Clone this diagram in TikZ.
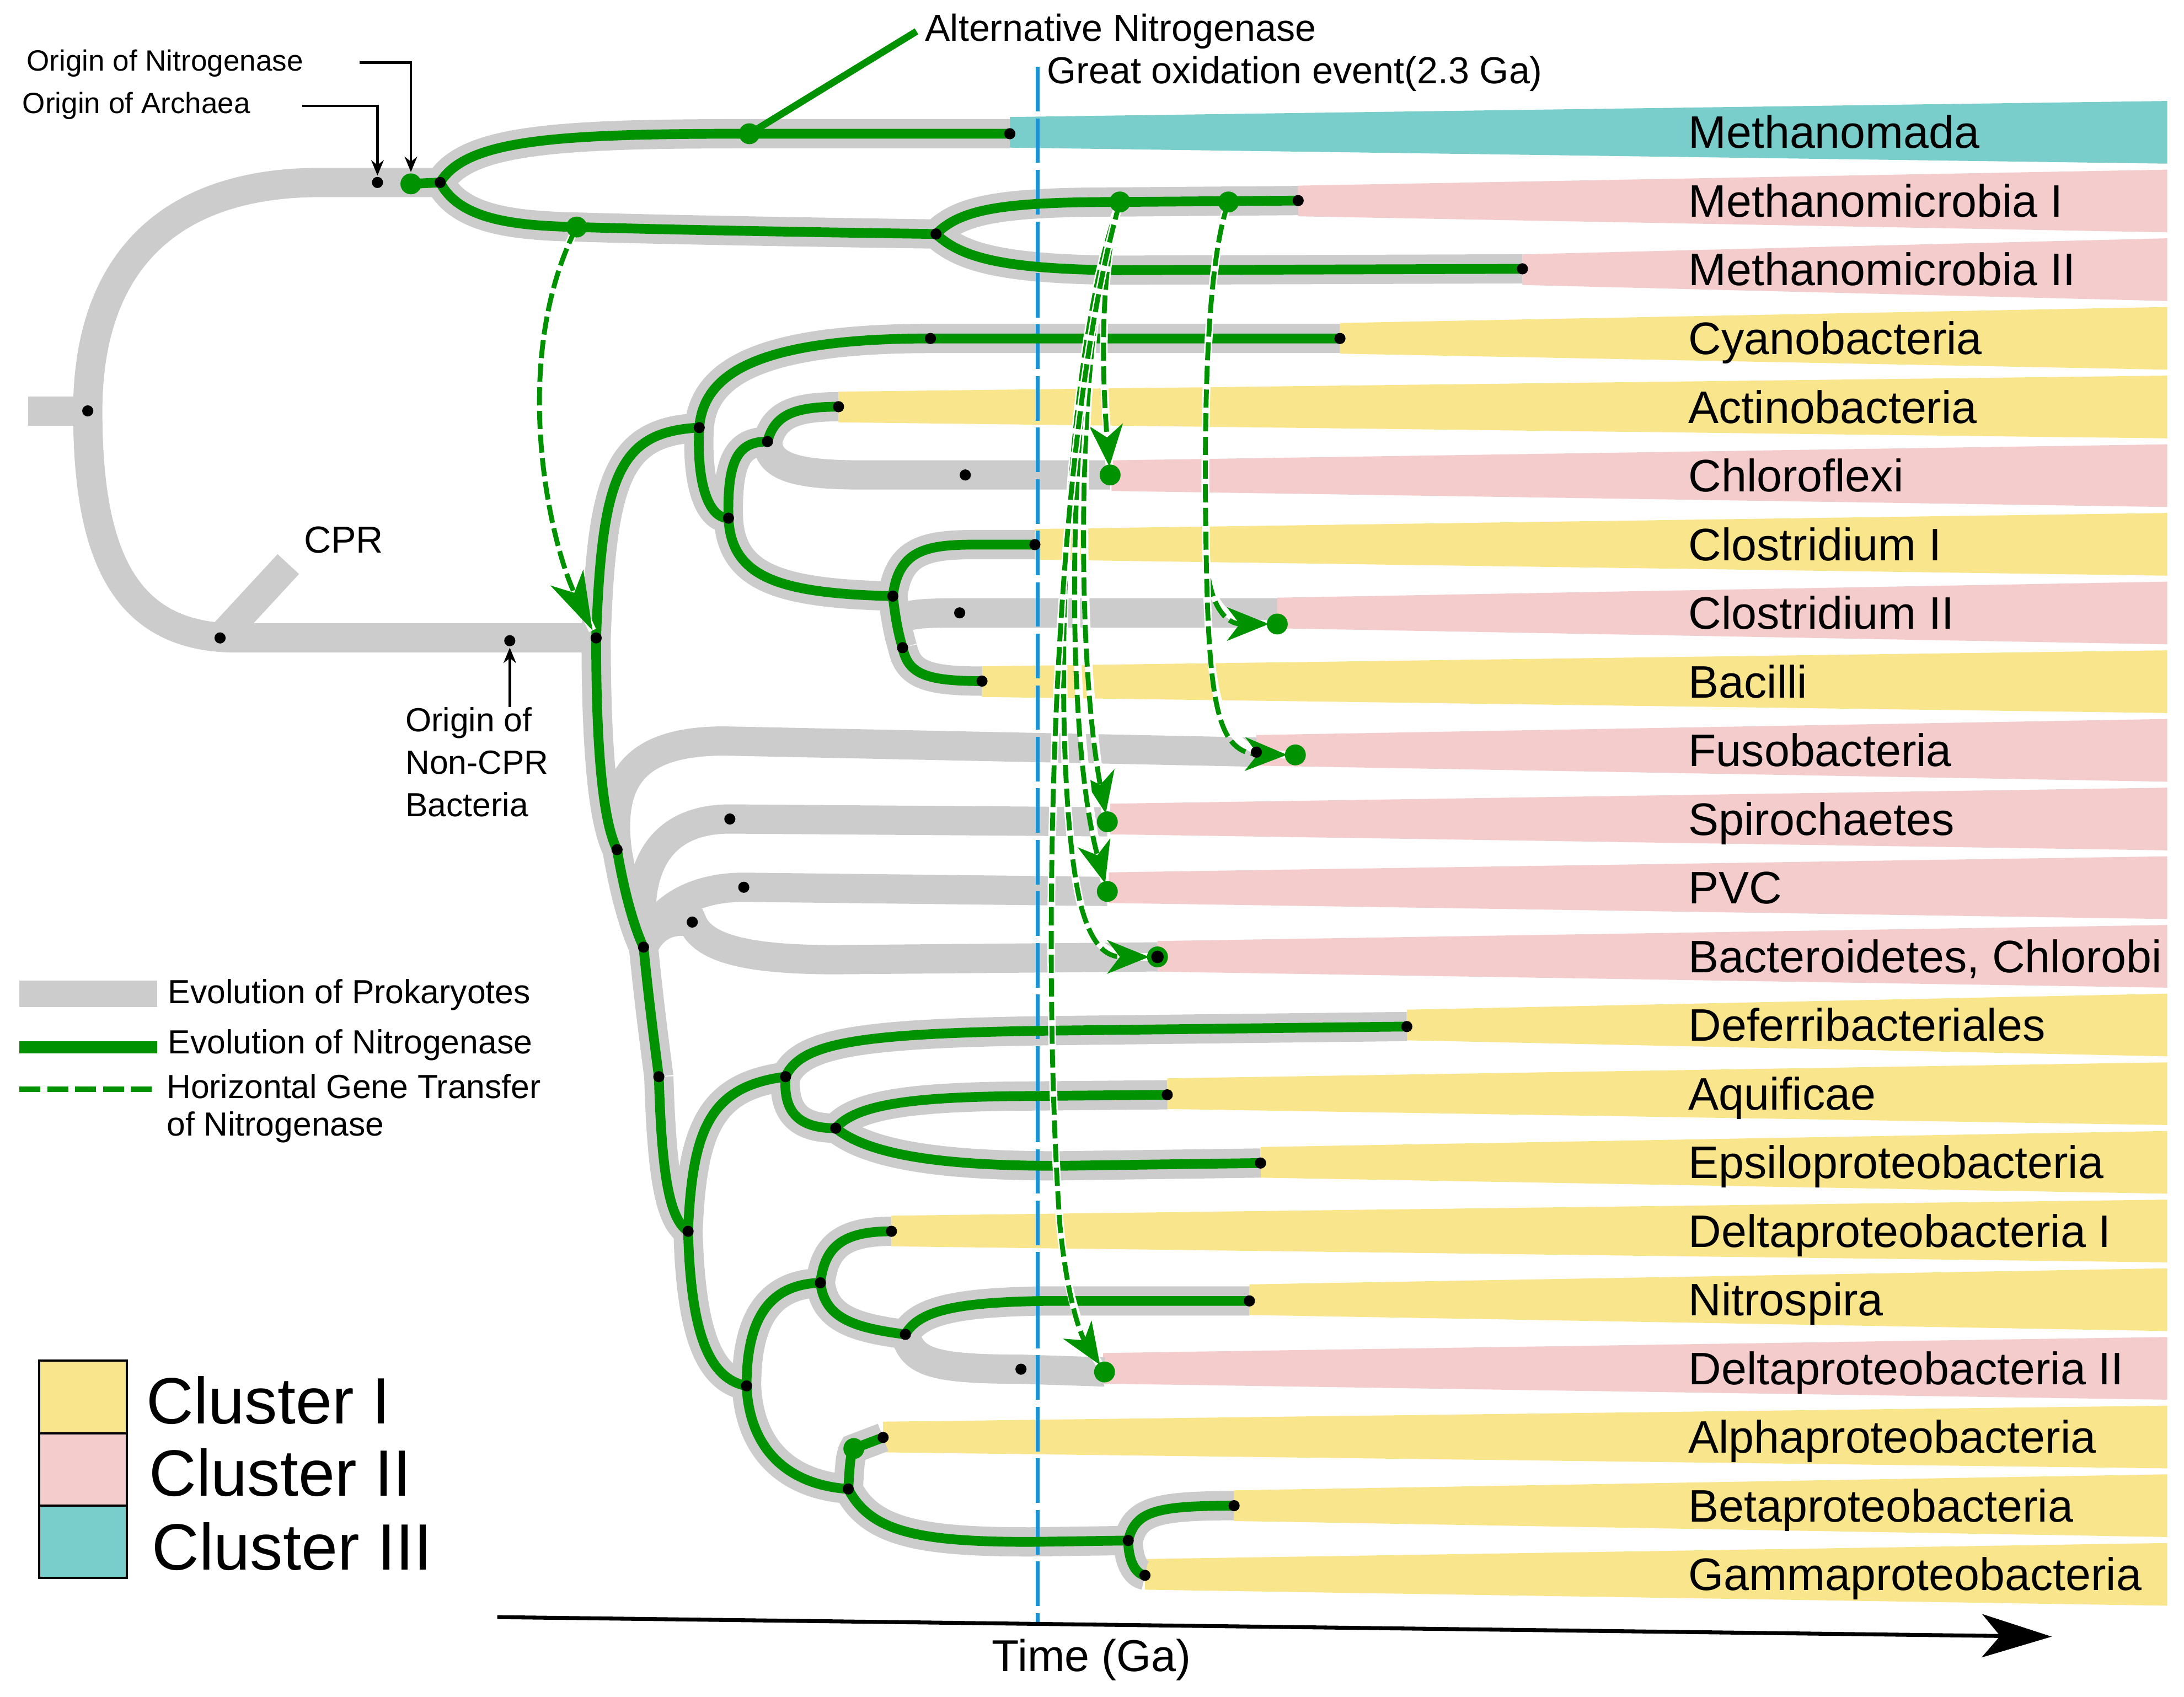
\documentclass[tikz,border=0pt]{standalone}
\usepackage{fontspec}
\setmainfont{Liberation Sans}
\usetikzlibrary{arrows.meta}
\definecolor{cone}{HTML}{F9E58B}
\definecolor{ctwo}{HTML}{F5CCCC}
\definecolor{cthree}{HTML}{79CECC}
\definecolor{cprok}{HTML}{CCCCCC}
\definecolor{cnif}{HTML}{009200}
\definecolor{cgoe}{HTML}{1D91D1}
% branches shared by the prokaryote band and the nitrogenase line
\newcommand{\nifroute}{%
  (asplit) .. controls (335,100) and (400,96) .. (altn) -- (mada)
  (asplit) .. controls (330,158) and (370,162) .. (hgtzero) .. controls (480,165) and (600,167) .. (mmsplit)
  (mmsplit) .. controls (690,150) and (720,145) .. (donA) -- (mmone)
  (mmsplit) .. controls (690,185) and (720,193) .. (800,194) -- (mmtwo)
  (bac) .. controls (432,340) and (445,310) .. (bA)
  (bA) .. controls (505,270) and (540,243) .. (cyanodot) -- (cyano)
  (bA) .. controls (500,345) and (508,372) .. (bB)
  (bB) .. controls (522,330) and (530,317) .. (bC)
  (bC) .. controls (556,298) and (570,292) .. (actino)
  (bB) .. controls (525,415) and (560,426) .. (bD)
  (bD) .. controls (645,395) and (665,391) .. (700,391) -- (clostone)
  (bD) .. controls (643,445) and (645,455) .. (bE)
  (bE) .. controls (652,484) and (665,489) .. (bacilli)
  (bac) .. controls (428,540) and (433,590) .. (bF)
  (bF) .. controls (448,640) and (455,665) .. (bG)
  (bG) .. controls (466,720) and (470,750) .. (bH)
  (bH) .. controls (475,840) and (480,875) .. (bI)
  (bI) .. controls (497,810) and (510,780) .. (bJ)
  (bJ) .. controls (575,748) and (620,742) .. (750,740) -- (deferri)
  (bJ) .. controls (562,800) and (575,810) .. (bK)
  (bK) .. controls (615,792) and (660,788) .. (724,787) -- (aqui)
  (bK) .. controls (625,830) and (680,837) .. (760,837) -- (epsi)
  (bI) .. controls (496,960) and (510,990) .. (bL)
  (bL) .. controls (536,950) and (550,922) .. (bM)
  (bM) .. controls (592,895) and (605,884) .. (deltaone)
  (bM) .. controls (592,945) and (610,953) .. (bN)
  (bN) .. controls (660,940) and (690,935) .. (750,934) -- (nitro)
  (bL) .. controls (538,1040) and (565,1066) .. (bO)
  (bO) .. controls (610,1055) and (610,1045) .. (alphadot) -- (alpha)
  (bO) .. controls (625,1100) and (660,1107) .. (740,1107) -- (bP)
  (bP) .. controls (815,1085) and (830,1081) .. (beta)
  (bP) .. controls (810,1120) and (815,1130) .. (gamma)}

\begin{document}
\begin{tikzpicture}[x=1pt,y=-1pt,
  prok/.style={draw=cprok,line width=21pt},
  nitr/.style={draw=cnif,line width=7pt},
  hgt/.style={draw=cnif,line width=3.5pt,dash pattern=on 13pt off 4pt,shorten >=6pt,
    -{Stealth[length=30pt,width=24pt,inset=9pt]},
    preaction={draw=white,line width=5.5pt,solid,-}},
  goe/.style={draw=cgoe,line width=2.6pt,dash pattern=on 32pt off 5pt},
  lead/.style={draw=black,line width=1.8pt,-{Stealth[length=11pt,width=9pt]}},
  rowlab/.style={anchor=base west,inner sep=0pt,font=\fontsize{32.7}{39}\selectfont},
  smalllab/.style={anchor=base west,inner sep=0pt,font=\fontsize{21}{25}\selectfont},
  midlab/.style={anchor=base west,inner sep=0pt,font=\fontsize{27}{32}\selectfont},
  leglab/.style={inner sep=0pt,font=\fontsize{24}{27}\selectfont},
  cllab/.style={anchor=base west,inner sep=0pt,font=\fontsize{47}{56}\selectfont},
  clbox/.style={draw=black,line width=1.6pt,minimum width=63pt,minimum height=52pt,inner sep=0pt}]
  \useasboundingbox (0,0) rectangle (1568,1218);

  % cluster bands
  \foreach \xs/\i/\col in {725/0/cthree,932/1/ctwo,1093/2/ctwo,962/3/cone,602/4/cone,798/5/ctwo,
      743/6/cone,917/7/ctwo,705/8/cone,902/9/ctwo,797/10/ctwo,796/11/ctwo,831/12/ctwo,1010/13/cone,
      838/14/cone,905/15/cone,640/16/cone,897/17/cone,792/18/ctwo,634/19/cone,886/20/cone,822/21/cone}{
    \pgfmathsetmacro\yc{95+49.3*\i}
    \fill[\col] (\xs,{\yc-11}) -- (1556,{\yc-22.5}) -- (1556,{\yc+22.5}) -- (\xs,{\yc+11}) -- cycle;
  }

  % tree points
  \coordinate (root) at (63,295);
  \coordinate (arch) at (271,131);
  \coordinate (nif) at (295,132);
  \coordinate (asplit) at (316,131);
  \coordinate (altn) at (538,96);
  \coordinate (mada) at (725,96);
  \coordinate (hgtzero) at (414,163);
  \coordinate (mmsplit) at (672,168);
  \coordinate (donA) at (804,145);
  \coordinate (donB) at (882,145);
  \coordinate (mmone) at (932,144);
  \coordinate (mmtwo) at (1093,193);
  \coordinate (cpr) at (158,458);
  \coordinate (noncpr) at (366,460);
  \coordinate (bac) at (428,458);
  \coordinate (bA) at (502,307);
  \coordinate (cyanodot) at (668,243);
  \coordinate (cyano) at (962,243);
  \coordinate (bB) at (523,372);
  \coordinate (bC) at (551,317);
  \coordinate (actino) at (602,292);
  \coordinate (chlorodot) at (693,341);
  \coordinate (chloro) at (797,341);
  \coordinate (bD) at (641,428);
  \coordinate (clostone) at (743,391);
  \coordinate (clostwodot) at (689,440);
  \coordinate (clostwo) at (917,448);
  \coordinate (bE) at (648,465);
  \coordinate (bacilli) at (705,489);
  \coordinate (fusodot) at (902,540);
  \coordinate (fuso) at (930,542);
  \coordinate (bF) at (443,610);
  \coordinate (spirodot) at (524,588);
  \coordinate (spiro) at (795,590);
  \coordinate (pvcdot) at (534,637);
  \coordinate (pvc) at (795,640);
  \coordinate (bacterdot) at (497,662);
  \coordinate (bacter) at (831,687);
  \coordinate (bG) at (462,680);
  \coordinate (bH) at (473,773);
  \coordinate (bI) at (494,884);
  \coordinate (bJ) at (564,773);
  \coordinate (deferri) at (1010,737);
  \coordinate (bK) at (600,810);
  \coordinate (aqui) at (838,786);
  \coordinate (epsi) at (905,835);
  \coordinate (bL) at (536,995);
  \coordinate (bM) at (589,921);
  \coordinate (deltaone) at (640,884);
  \coordinate (bN) at (650,958);
  \coordinate (nitro) at (897,934);
  \coordinate (deltwodot) at (733,983);
  \coordinate (deltwo) at (793,985);
  \coordinate (bO) at (609,1069);
  \coordinate (alphadot) at (613,1040);
  \coordinate (alpha) at (634,1032);
  \coordinate (bP) at (810,1106);
  \coordinate (beta) at (886,1081);
  \coordinate (gamma) at (822,1131);

  % evolution of prokaryotes
  \draw[prok] (20,295) -- (root);
  \draw[prok] (root) .. controls (63,190) and (120,131) .. (230,131) -- (asplit);
  \draw[prok] (root) .. controls (63,400) and (90,458) .. (170,458) -- (bac);
  \draw[prok] (cpr) -- (207,405);
  \draw[prok] \nifroute;
  \draw[prok] (bC) .. controls (552,335) and (570,341) .. (620,341) -- (chloro);
  \draw[prok] (644,447) .. controls (648,441) and (660,440) .. (clostwodot) -- (917,440);
  \draw[prok] (bF) .. controls (437,560) and (455,532) .. (520,532) -- (fusodot);
  \draw[prok] (bG) .. controls (453,615) and (480,588) .. (spirodot) -- (spiro);
  \draw[prok] (bG) .. controls (470,655) and (495,637) .. (pvcdot) -- (pvc);
  \draw[prok] (bG) .. controls (470,662) and (485,660) .. (bacterdot) .. controls (505,682) and (540,689) .. (600,689) -- (bacter);
  \draw[prok] (bN) .. controls (655,978) and (670,983) .. (deltwodot) -- (deltwo);

  % great oxidation event
  \coordinate (goetop) at (745,48);
  \coordinate (goebot) at (745,1166);
  \draw[goe] (goetop) -- (goebot);

  % evolution of nitrogenase
  \draw[nitr] (nif) -- (asplit);
  \draw[nitr] \nifroute;

  % time axis
  \coordinate (tstart) at (357,1161);
  \coordinate (tend) at (1473,1175);
  \draw[line width=2.8pt,-{Stealth[length=50pt,width=31pt,inset=13pt]}] (tstart) -- (tend);

  % horizontal gene transfer
  \draw[hgt,-{Stealth[length=42pt,width=26pt,inset=12pt]}] (hgtzero) .. controls (365,260) and (395,390) .. (bac);
  \draw[hgt] (donA) .. controls (788,200) and (792,280) .. (chloro);
  \draw[hgt] (donA) .. controls (772,230) and (772,470) .. (spiro);
  \draw[hgt] (donA) .. controls (766,240) and (762,520) .. (pvc);
  \draw[hgt] (donA) .. controls (760,260) and (754,560) .. (776,650) .. controls (784,680) and (795,687) .. (bacter);
  \draw[hgt] (donA) .. controls (752,330) and (748,700) .. (761,880) .. controls (766,930) and (775,957) .. (deltwo);
  \draw[hgt] (donB) .. controls (866,190) and (864,300) .. (866,400) .. controls (868,435) and (880,448) .. (clostwo);
  \draw[hgt] (donB) .. controls (866,190) and (864,300) .. (866,400) .. controls (868,510) and (875,541) .. (fuso);

  % alternative nitrogenase
  \node[midlab,inner xsep=6pt] (altlab) at (658,29.5) {Alternative Nitrogenase};
  \draw[nitr,line width=5pt] (altn) -- (altlab.west);

  % dots
  \foreach \n in {nif,altn,hgtzero,donA,donB,chloro,clostwo,fuso,spiro,pvc,bacter,deltwo,alphadot}
    \fill[cnif] (\n) circle (7.5pt);
  \foreach \n in {root,arch,asplit,mada,mmsplit,mmone,mmtwo,cpr,noncpr,bac,bA,cyanodot,cyano,bB,bC,
      actino,chlorodot,bD,clostone,clostwodot,bE,bacilli,fusodot,bF,spirodot,pvcdot,bacterdot,bG,bH,
      bI,bJ,deferri,bK,aqui,epsi,bL,bM,deltaone,bN,nitro,deltwodot,bO,alpha,bP,beta,gamma}
    \fill (\n) circle (4pt);
  \fill (bacter) circle (4.5pt);

  % lineage names
  \foreach \i/\name in {0/Methanomada,1/Methanomicrobia I,2/Methanomicrobia II,3/Cyanobacteria,
      4/Actinobacteria,5/Chloroflexi,6/Clostridium I,7/Clostridium II,8/Bacilli,9/Fusobacteria,
      10/Spirochaetes,11/PVC,12/{Bacteroidetes, Chlorobi},13/Deferribacteriales,14/Aquificae,
      15/Epsiloproteobacteria,16/Deltaproteobacteria I,17/Nitrospira,18/Deltaproteobacteria II,
      19/Alphaproteobacteria,20/Betaproteobacteria,21/Gammaproteobacteria}
    \node[rowlab] (lab\i) at (1212,{106.5+49.3*\i}) {\name};

  % annotations
  \node[midlab] (goelab) at (751.5,60) {Great oxidation event(2.3 Ga)};
  \node[smalllab] (orinif) at (19,51) {Origin of Nitrogenase};
  \node[smalllab] (oriarc) at (16,81.5) {Origin of Archaea};
  \coordinate (nifleadA) at (258,45);
  \coordinate (nifend) at (295,123.5);
  \draw[lead] (nifleadA) -| (nifend);
  \coordinate (arcleadA) at (217,76);
  \coordinate (archend) at (271,126);
  \draw[lead] (arcleadA) -| (archend);
  \node[midlab] (cprlab) at (218,397) {CPR};
  \node[leglab,anchor=north west,align=left,font=\fontsize{24}{30.5}\selectfont] (noncprlab) at (291,507.5) {Origin of\\Non-CPR\\Bacteria};
  \coordinate (ncprend) at (366,465);
  \draw[lead] (noncprlab.north -| ncprend) -- (ncprend);
  \node[rowlab,font=\fontsize{32}{38}\selectfont] (timelab) at (712,1200) {Time (Ga)};

  % legend
  \draw[prok,line width=19pt] (14,713.5) -- (113,713.5);
  \draw[nitr,line width=8.5pt] (14,752) -- (113,752);
  \draw[cnif,line width=4pt,dash pattern=on 15pt off 5pt] (14,782) -- (113,782);
  \node[leglab,anchor=base west] (legprok) at (120.5,720.5) {Evolution of Prokaryotes};
  \node[leglab,anchor=base west] (legnif) at (120.5,756.5) {Evolution of Nitrogenase};
  \node[leglab,anchor=north west,align=left] (leghgt) at (119.5,771) {Horizontal Gene Transfer\\of Nitrogenase};
  \node[clbox,fill=cone] (clone) at (59.5,1003) {};
  \node[clbox,fill=ctwo] (cltwo) at (59.5,1055) {};
  \node[clbox,fill=cthree] (clthree) at (59.5,1107) {};
  \node[cllab] (labone) at (105,1022) {Cluster I};
  \node[cllab] (labtwo) at (107,1074) {Cluster II};
  \node[cllab] (labthree) at (109,1127) {Cluster III};
\end{tikzpicture}
\end{document}
